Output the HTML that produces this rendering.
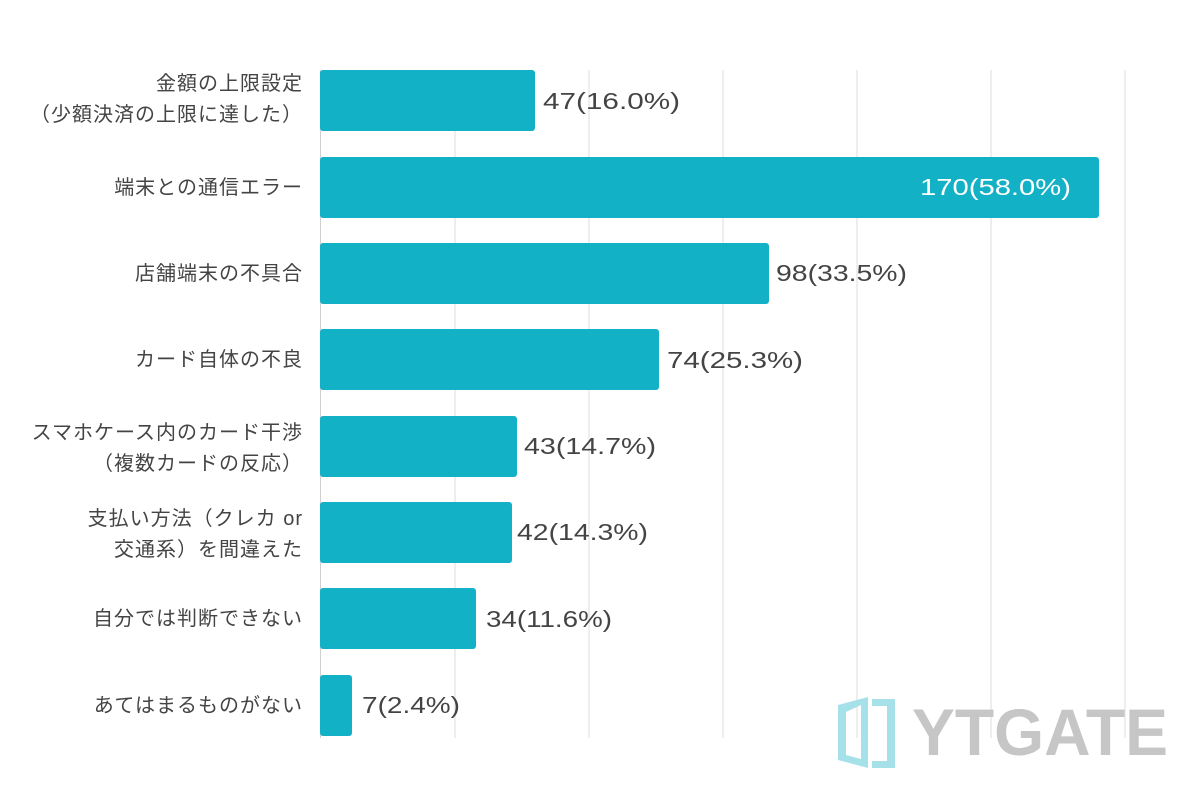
<!DOCTYPE html>
<html><head><meta charset="utf-8"><style>
body{margin:0;background:#fff;}
svg{display:block;}
text{font-family:"Liberation Sans","Noto Sans CJK JP",sans-serif;}
</style></head><body>
<svg width="1200" height="800" viewBox="0 0 1200 800">
<g stroke="#e2e2e2" stroke-width="1.2">
<line x1="455" y1="70" x2="455" y2="738"/>
<line x1="589" y1="70" x2="589" y2="738"/>
<line x1="723" y1="70" x2="723" y2="738"/>
<line x1="857" y1="70" x2="857" y2="738"/>
<line x1="991" y1="70" x2="991" y2="738"/>
<line x1="1125" y1="70" x2="1125" y2="738"/>
</g>
<line x1="320.5" y1="70" x2="320.5" y2="738" stroke="#cfcfcf" stroke-width="1"/>
<g fill="#13b1c6">
<rect x="320" y="70" width="215" height="61" rx="3"/>
<rect x="320" y="157" width="779" height="61" rx="3"/>
<rect x="320" y="243" width="449" height="61" rx="3"/>
<rect x="320" y="329" width="339" height="61" rx="3"/>
<rect x="320" y="416" width="197" height="61" rx="3"/>
<rect x="320" y="502" width="192" height="61" rx="3"/>
<rect x="320" y="588" width="156" height="61" rx="3"/>
<rect x="320" y="675" width="32" height="61" rx="3"/>
</g>
<g font-size="23" fill="#444" lengthAdjust="spacingAndGlyphs">
<text x="543" y="109" textLength="137" lengthAdjust="spacingAndGlyphs">47(16.0%)</text>
<text x="920" y="195" fill="#fff" textLength="151" lengthAdjust="spacingAndGlyphs">170(58.0%)</text>
<text x="776" y="281" textLength="131" lengthAdjust="spacingAndGlyphs">98(33.5%)</text>
<text x="667" y="368" textLength="136" lengthAdjust="spacingAndGlyphs">74(25.3%)</text>
<text x="524" y="454" textLength="132" lengthAdjust="spacingAndGlyphs">43(14.7%)</text>
<text x="517" y="540" textLength="131" lengthAdjust="spacingAndGlyphs">42(14.3%)</text>
<text x="486" y="627" textLength="126" lengthAdjust="spacingAndGlyphs">34(11.6%)</text>
<text x="362" y="713" textLength="98" lengthAdjust="spacingAndGlyphs">7(2.4%)</text>
</g>
<g font-size="20" fill="#444" text-anchor="end" letter-spacing="1">
<text x="303" y="90">金額の上限設定</text>
<text x="303" y="121">（少額決済の上限に達した）</text>
<text x="303" y="194">端末との通信エラー</text>
<text x="303" y="280">店舗端末の不具合</text>
<text x="303" y="366">カード自体の不良</text>
<text x="303" y="439">スマホケース内のカード干渉</text>
<text x="303" y="470">（複数カードの反応）</text>
<text x="303" y="525">支払い方法（クレカ or</text>
<text x="303" y="556">交通系）を間違えた</text>
<text x="303" y="625">自分では判断できない</text>
<text x="303" y="712">あてはまるものがない</text>
</g>
<g fill="#a6e1ea">
<path d="M838 705 L868 697 L868 768 L838 760 Z M846 712 L846 755 L861 759 L861 705 Z" fill-rule="evenodd"/>
<path d="M872 699 L895 699 L895 768 L872 768 L872 761 L887 761 L887 706 L872 706 Z"/>
</g>
<text x="912" y="755" font-size="66" font-weight="bold" fill="#c6c6c6" textLength="256" lengthAdjust="spacingAndGlyphs">YTGATE</text>
</svg>
</body></html>
